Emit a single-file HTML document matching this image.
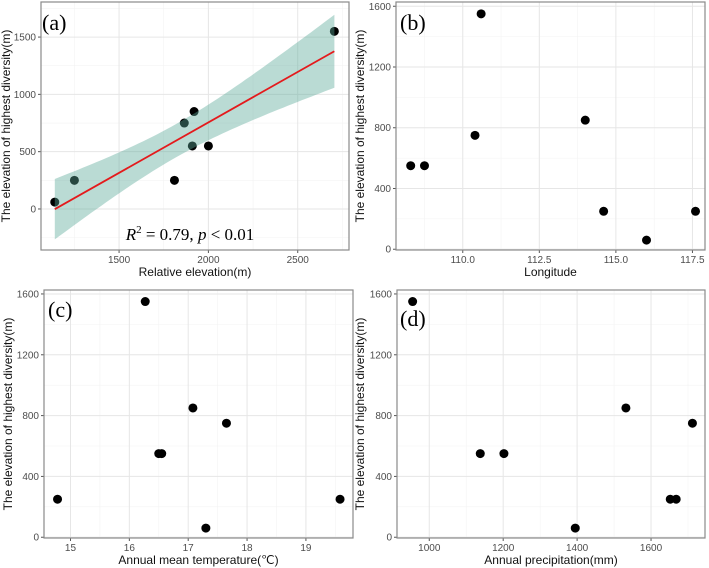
<!DOCTYPE html>
<html><head><meta charset="utf-8"><style>
html,body{margin:0;padding:0;background:#fff;}
svg{display:block;font-family:"Liberation Sans",sans-serif;}
</style></head><body>
<svg id="fig" width="709" height="568" viewBox="0 0 709 568" xmlns="http://www.w3.org/2000/svg"></svg>
<script>
// Panel (a) data
const aX = [1140,1250,1810,1865,1910,1920,2000,2705];
const aY = [60,250,250,750,550,850,550,1550];
const aXTicks = [1500,2000,2500];
const aYTicks = [0,500,1000,1500];
// Panel (b)
const bX = [108.3,108.75,110.4,110.6,114.0,114.6,116.0,117.6];
const bY = [550,550,750,1550,850,250,60,250];
const bXTicks = [110.0,112.5,115.0,117.5];
const bXLabels = ["110.0","112.5","115.0","117.5"];
const yTicks1600 = [0,400,800,1200,1600];
// Panel (c)
const cX = [14.78,16.27,16.5,16.55,17.08,17.3,17.65,19.58];
const cY = [250,1550,550,550,850,60,750,250];
const cXTicks = [15,16,17,18,19];
// Panel (d)
const dX = [955,1138,1202,1395,1532,1652,1668,1712];
const dY = [1550,550,550,60,850,250,250,750];
const dXTicks = [1000,1200,1400,1600];

const NS="http://www.w3.org/2000/svg";
const svg=document.getElementById('fig');
function mk(tag,attrs,parent){const e=document.createElementNS(NS,tag);for(const k in attrs)e.setAttribute(k,attrs[k]);(parent||svg).appendChild(e);return e;}

function panel(cfg){
  const g=mk('g',{});
  
  
  const {x0,x1,y0,y1,xmin,xmax,ymin,ymax}=cfg;
  const sx=v=>x0+(v-xmin)/(xmax-xmin)*(x1-x0);
  const sy=v=>y1-(v-ymin)/(ymax-ymin)*(y1-y0);
  // minor grid
  const xt=cfg.xticks, yt=cfg.yticks;
  const dx=xt[1]-xt[0], dy=yt[1]-yt[0];
  for(let v=xt[0]-dx/2; v<=xmax; v+=dx){ if(v>=xmin){const l=mk('line',{x1:sx(v),x2:sx(v),y1:y0,y2:y1,stroke:'#f3f3f3','stroke-width':0.6},g);}}
  for(let v=yt[0]-dy/2; v<=ymax; v+=dy){ if(v>=ymin){const l=mk('line',{x1:x0,x2:x1,y1:sy(v),y2:sy(v),stroke:'#f3f3f3','stroke-width':0.6},g);}}
  xt.forEach((v,i)=>{
    const l=mk('line',{x1:sx(v),x2:sx(v),y1:y0,y2:y1,stroke:'#e6e6e6','stroke-width':1},g);
    
    mk('line',{x1:sx(v),x2:sx(v),y1:y1,y2:y1+3,stroke:'#555','stroke-width':1},g);
    const t=mk('text',{x:sx(v),y:y1+13,'text-anchor':'middle','font-size':10,fill:'#4d4d4d'},g);
    t.textContent=cfg.xlabels?cfg.xlabels[i]:String(v);
    
  });
  yt.forEach(v=>{
    const l=mk('line',{x1:x0,x2:x1,y1:sy(v),y2:sy(v),stroke:'#e6e6e6','stroke-width':1},g);
    
    mk('line',{x1:x0-3,x2:x0,y1:sy(v),y2:sy(v),stroke:'#555','stroke-width':1},g);
    const t=mk('text',{x:x0-5,y:sy(v)+3.5,'text-anchor':'end','font-size':10,fill:'#4d4d4d'},g);
    t.textContent=String(v);
    
  });
  cfg.xs.forEach((v,i)=>{
    const c=mk('circle',{cx:sx(v),cy:sy(cfg.ys[i]),r:4.5,fill:'#000'},g);
    
  });
  if(cfg.fit){
    const xs=cfg.xs, ys=cfg.ys, n=xs.length;
    const mx=xs.reduce((a,b)=>a+b)/n, my=ys.reduce((a,b)=>a+b)/n;
    let sxx=0,sxy=0; xs.forEach((v,i)=>{sxx+=(v-mx)**2;sxy+=(v-mx)*(ys[i]-my);});
    const b=sxy/sxx, a=my-b*mx;
    let ss=0; xs.forEach((v,i)=>{ss+=(ys[i]-a-b*v)**2;});
    const s=Math.sqrt(ss/(n-2)), tq=1.93;
    const lo=Math.min(...xs), hi=Math.max(...xs);
    let up=[],dn=[];
    for(let k=0;k<=60;k++){const v=lo+(hi-lo)*k/60;const p=a+b*v;const se=s*Math.sqrt(1/n+(v-mx)**2/sxx)*tq;up.push([sx(v),sy(p+se)]);dn.push([sx(v),sy(p-se)]);}
    const pts=up.concat(dn.reverse()).map(p=>p[0].toFixed(1)+','+p[1].toFixed(1)).join(' ');
    const band=mk('polygon',{points:pts,fill:'#5aaa98','fill-opacity':0.42},g);
    
    const ln=mk('line',{x1:sx(lo),y1:sy(a+b*lo),x2:sx(hi),y2:sy(a+b*hi),stroke:'#e41a1c','stroke-width':1.8},g);
    
  }
  const r=mk('rect',{x:x0,y:y0,width:x1-x0,height:y1-y0,fill:'none',stroke:'#8a8a8a','stroke-width':1.2},g);
  
  const xtl=mk('text',{x:(x0+x1)/2,y:y1+26,'text-anchor':'middle','font-size':12,fill:'#111'},g);
  xtl.textContent=cfg.xtitle;
  const yc=(y0+y1)/2, yx=cfg.ytx;
  const ytl=mk('text',{x:yx,y:yc,'text-anchor':'middle','font-size':12,fill:'#111',transform:`rotate(-90 ${yx} ${yc})`},g);
  ytl.textContent='The elevation of highest diversity(m)';
  const lb=mk('text',{x:cfg.lx,y:cfg.ly,'font-size':22,'font-family':'"Liberation Serif",serif',fill:'#000'},g);
  lb.textContent=cfg.label;
  return {g,sx,sy};
}

const pa=panel({name:'panel-a',x0:41,x1:349,y0:2,y1:250,xmin:1063,xmax:2787,ymin:-358,ymax:1806,xticks:aXTicks,yticks:aYTicks,xs:aX,ys:aY,fit:true,xtitle:'Relative elevation(m)',ytx:10,label:'(a)',lx:42,ly:30});
const ann=mk('text',{x:190,y:240,'text-anchor':'middle','font-size':17,'font-family':'"Liberation Serif",serif',fill:'#000'},pa.g);

ann.innerHTML='<tspan font-style="italic">R</tspan><tspan font-size="11" dy="-7">2</tspan><tspan dy="7"> = 0.79, </tspan><tspan font-style="italic">p</tspan><tspan> &lt; 0.01</tspan>';

panel({name:'panel-b',x0:396,x1:705,y0:2,y1:250,xmin:107.82,xmax:117.91,ymin:-5,ymax:1628,xticks:bXTicks,xlabels:bXLabels,yticks:yTicks1600,xs:bX,ys:bY,xtitle:'Longitude',ytx:364,label:'(b)',lx:400,ly:30});
panel({name:'panel-c',x0:44,x1:353,y0:290,y1:538,xmin:14.55,xmax:19.80,ymin:-5,ymax:1626,xticks:cXTicks,yticks:yTicks1600,xs:cX,ys:cY,xtitle:'Annual mean temperature(℃)',ytx:12,label:'(c)',lx:48,ly:317});
panel({name:'panel-d',x0:397,x1:705,y0:290,y1:538,xmin:912.7,xmax:1746,ymin:-5,ymax:1626,xticks:dXTicks,yticks:yTicks1600,xs:dX,ys:dY,xtitle:'Annual precipitation(mm)',ytx:364,label:'(d)',lx:400,ly:326});
</script>
</body></html>
